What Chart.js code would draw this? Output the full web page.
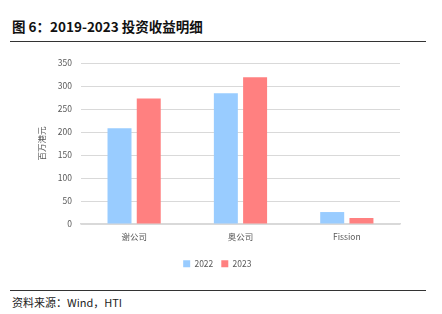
<!DOCTYPE html>
<html>
<head>
<meta charset="utf-8">
<script src="https://cdn.jsdelivr.net/npm/chart.js@4"></script>
<style>
  body { margin: 0; width: 442px; height: 314px; background: #fff; position: relative; overflow: hidden; font-family: "Noto Sans CJK SC", "Noto Sans", sans-serif; }
  .title { position: absolute; left: 12px; top: 16px; font-size: 13.5px; font-weight: bold; color: #111; }
  .rule { position: absolute; left: 10px; width: 416px; height: 1px; background: #333; }
  .source { position: absolute; left: 12px; top: 294px; font-size: 11px; color: #222; }
  .chart-box { position: absolute; left: 0; top: 46px; width: 442px; height: 236px; }
</style>
</head>
<body>
<div class="title">图 6：2019-2023 投资收益明细</div>
<div class="rule" style="top:41px"></div>
<div class="chart-box"><canvas id="chart"></canvas></div>
<div class="rule" style="top:290px"></div>
<div class="source">资料来源：Wind，HTI</div>
<script>
const categories = ['谢公司', '奥公司', 'Fission']
const values2022 = [208, 284, 26]
const values2023 = [273, 319, 13]
const yTicks = [0, 50, 100, 150, 200, 250, 300, 350]

const tickFont = { family: '"Noto Sans CJK SC", "Noto Sans", sans-serif', size: 8.5 }

new Chart(document.getElementById('chart'), {
  type: 'bar',
  data: {
    labels: categories,
    datasets: [
      { label: '2022', data: values2022, backgroundColor: '#99ccff' },
      { label: '2023', data: values2023, backgroundColor: '#ff8080' },
    ],
  },
  options: {
    responsive: true,
    maintainAspectRatio: false,
    animation: false,
    categoryPercentage: 0.55,
    barPercentage: 0.82,
    layout: { padding: { left: 34.6, right: 42, top: 17, bottom: 4 } },
    plugins: {
      legend: {
        position: 'bottom',
        labels: { boxWidth: 7, boxHeight: 7, color: '#595959', font: tickFont, padding: 8 },
      },
      tooltip: { enabled: false },
    },
    scales: {
      x: {
        grid: { display: false, drawTicks: false },
        border: { color: '#d9d9d9', width: 1.5 },
        ticks: { color: '#595959', font: tickFont, padding: 8 },
        // a little extra room down to the legend
        afterFit: (scale) => { scale.height += 1.3 },
      },
      y: {
        min: 0,
        max: 350,
        afterBuildTicks: (axis) => { axis.ticks = yTicks.map((v) => ({ value: v })) },
        grid: { color: '#d9d9d9', drawTicks: false },
        border: { display: false },
        ticks: { color: '#595959', font: tickFont, padding: 9 },
        title: { display: true, text: '百万港元', color: '#595959', font: tickFont, padding: 2 },
      },
    },
  },
})
</script>
</body>
</html>
